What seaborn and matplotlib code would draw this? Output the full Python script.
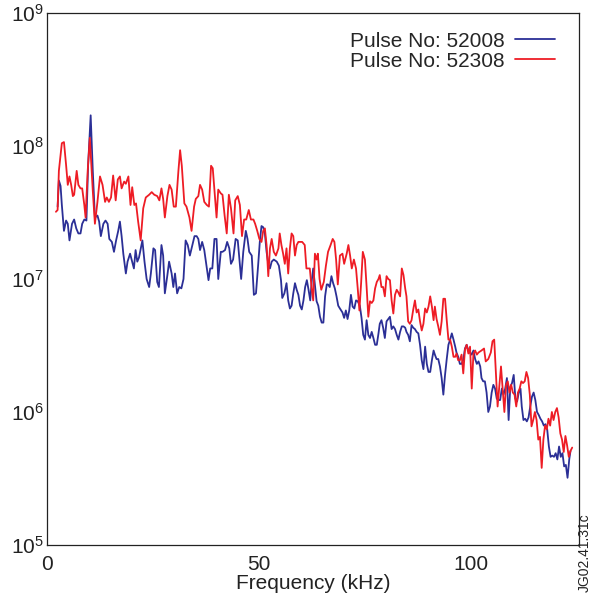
import numpy as np
import pandas as pd
import matplotlib
matplotlib.use("Agg")
import matplotlib.pyplot as plt
import seaborn as sns

# ---------------- data ----------------
freq_52308 = [2.1, 2.5, 2.8, 3.5, 4.0, 4.5, 4.9, 5.3, 5.7, 6.1, 6.4, 7.0, 7.4, 7.9, 8.3, 8.8, 9.1, 9.6, 10.1, 10.8,
              11.3, 11.9, 12.5, 13.1, 13.7, 14.1, 14.6, 15.1, 15.6, 16.2, 16.7, 17.2, 17.6, 18.2, 18.6, 19.2, 19.7, 20.1, 20.6, 21.0,
              21.5, 22.1, 22.7, 23.3, 24.1, 24.7, 25.3, 26.0, 26.5, 27.0, 27.4, 27.8, 28.4, 28.9, 29.4, 29.9, 30.4, 31.0, 31.4, 31.8,
              32.4, 32.9, 33.6, 34.1, 34.7, 35.1, 35.7, 36.1, 36.6, 37.1, 37.7, 38.2, 38.7, 39.1, 39.5, 40.0, 40.4, 41.0, 41.4, 41.9,
              42.4, 42.9, 43.4, 44.0, 44.4, 45.0, 45.5, 46.0, 46.5, 47.0, 47.6, 48.1, 48.7, 49.1, 49.6, 50.1, 50.6, 51.0, 51.4, 51.8,
              52.2, 52.6, 53.0, 53.5, 54.0, 54.6, 54.9, 55.3, 55.7, 56.1, 56.5, 56.9, 57.3, 57.7, 58.1, 58.5, 58.9, 59.3, 59.7, 60.2,
              60.8, 61.2, 61.6, 62.0, 62.4, 62.8, 63.2, 63.6, 63.9, 64.3, 64.7, 65.3, 65.8, 66.3, 66.9, 67.4, 67.8, 68.2, 68.6, 69.1,
              69.7, 70.1, 70.7, 71.1, 71.5, 71.9, 72.4, 72.9, 73.3, 73.7, 74.1, 74.5, 75.0, 75.4, 75.8, 76.2, 76.6, 77.0, 77.4, 77.8,
              78.2, 78.5, 78.9, 79.3, 79.7, 80.1, 80.5, 80.9, 81.3, 81.7, 82.1, 82.5, 82.9, 83.3, 83.7, 84.1, 84.5, 84.8, 85.2, 85.6,
              86.0, 86.4, 86.8, 87.2, 87.6, 88.0, 88.4, 88.8, 89.2, 89.6, 90.0, 90.4, 90.8, 91.2, 91.5, 91.9, 92.3, 92.7, 93.1, 93.5,
              93.9, 94.3, 94.7, 95.1, 95.5, 95.9, 96.3, 96.6, 97.0, 97.4, 97.8, 98.2, 98.6, 99.0, 99.4, 99.8, 100.2, 100.6, 101.0, 101.4,
              101.8, 102.5, 103.1, 103.5, 104.1, 104.7, 105.1, 105.5, 105.9, 106.3, 106.7, 107.1, 107.5, 107.9, 108.3, 108.7, 109.1, 109.5, 109.9, 110.3,
              110.7, 111.1, 111.5, 111.9, 112.3, 112.7, 113.1, 113.5, 113.9, 114.3, 114.7, 115.1, 115.5, 115.9, 116.3, 116.7, 117.1, 117.5, 117.9, 118.3,
              118.7, 119.1, 119.5, 119.9, 120.3, 120.7, 121.1, 121.5, 121.9, 122.3, 122.7, 123.1, 123.5, 123.9]
power_52308 = [3.2e7, 3.3e7, 6.5e7, 1.05e8, 1.07e8, 7.2e7, 5.1e7, 5.9e7, 5.1e7, 4.2e7, 4.3e7, 6.5e7, 5.1e7, 4.8e7, 4.8e7, 3.6e7, 2.9e7, 6.5e7, 1.15e8, 4.6e7,
               2.6e7, 3.8e7, 5.9e7, 5.1e7, 3.8e7, 4.1e7, 3.8e7, 4.1e7, 6.0e7, 3.9e7, 5.6e7, 5.9e7, 4.8e7, 5.4e7, 5.2e7, 5.9e7, 3.6e7, 4.9e7, 3.6e7, 3.7e7,
               2.7e7, 1.95e7, 3.4e7, 4.1e7, 4.3e7, 4.5e7, 4.3e7, 4.2e7, 3.9e7, 4.8e7, 4.0e7, 2.9e7, 4.2e7, 5.1e7, 4.7e7, 3.5e7, 3.5e7, 6.5e7, 9.3e7, 7.1e7,
               3.7e7, 3.5e7, 2.9e7, 2.3e7, 3.5e7, 4.0e7, 4.2e7, 5.1e7, 4.7e7, 3.8e7, 3.6e7, 3.5e7, 7.1e7, 6.8e7, 4.7e7, 2.9e7, 4.7e7, 4.4e7, 4.3e7, 3.0e7,
               2.2e7, 4.3e7, 3.4e7, 2.2e7, 3.9e7, 4.2e7, 3.6e7, 2.1e7, 2.8e7, 2.8e7, 3.3e7, 2.8e7, 2.8e7, 2.6e7, 2.3e7, 2.0e7, 1.9e7, 2.3e7, 2.4e7, 1.8e7,
               1.05e7, 1.7e7, 2.0e7, 1.6e7, 1.5e7, 1.7e7, 2.2e7, 1.8e7, 1.55e7, 1.3e7, 1.7e7, 1.1e7, 1.7e7, 2.2e7, 2.1e7, 1.5e7, 1.8e7, 1.9e7, 1.9e7, 1.9e7,
               1.8e7, 1.2e7, 1.2e7, 1.2e7, 8.7e6, 6.9e6, 1.55e7, 1.4e7, 1.55e7, 1.0e7, 8.3e6, 9.5e6, 1.26e7, 1.6e7, 1.8e7, 2.0e7, 1.9e7, 1.4e7, 9.1e6, 1.5e7,
               1.55e7, 1.3e7, 1.55e7, 1.8e7, 1.5e7, 1.2e7, 1.4e7, 1.2e7, 8.5e6, 5.8e6, 9.3e6, 1.6e7, 1.4e7, 8.7e6, 5.2e6, 6.8e6, 6.6e6, 6.9e6, 8.5e6, 9.5e6,
               1.0e7, 1.07e7, 8.7e6, 8.7e6, 7.4e6, 1.05e7, 1.0e7, 9.8e6, 6.9e6, 5.5e6, 7.6e6, 8.3e6, 7.9e6, 7.4e6, 1.2e7, 1.07e7, 8.5e6, 7.4e6, 4.8e6, 4.6e6,
               4.9e6, 5.9e6, 6.9e6, 5.6e6, 5.9e6, 4.8e6, 4.1e6, 4.6e6, 6.0e6, 5.6e6, 6.2e6, 7.4e6, 6.2e6, 4.9e6, 6.2e6, 5.0e6, 4.4e6, 3.8e6, 4.8e6, 7.1e6,
               7.1e6, 4.9e6, 3.5e6, 3.5e6, 3.1e6, 2.6e6, 2.6e6, 2.75e6, 2.45e6, 2.45e6, 2.7e6, 1.95e6, 2.95e6, 3.2e6, 2.75e6, 3.1e6, 1.5e6, 2.75e6, 2.9e6, 2.7e6,
               2.8e6, 2.9e6, 3.0e6, 2.4e6, 2.5e6, 2.8e6, 3.4e6, 3.5e6, 1.95e6, 1.1e6, 1.55e6, 2.2e6, 1.5e6, 1.0e6, 1.6e6, 1.7e6, 1.4e6, 1.6e6, 1.4e6, 1.35e6,
               1.1e6, 1.4e6, 1.5e6, 1.7e6, 1.65e6, 1.7e6, 2.0e6, 1.8e6, 1.35e6, 7.8e5, 8.7e5, 1.0e6, 8.7e5, 6.2e5, 6.5e5, 3.8e5, 6.2e5, 7.9e5, 7.4e5, 8.9e5,
               7.9e5, 1.0e6, 8.7e5, 1.0e6, 1.07e6, 9.1e5, 6.9e5, 6.2e5, 5.0e5, 6.6e5, 5.6e5, 4.6e5, 5.1e5, 5.4e5]

freq_52008 = [2.5, 2.8, 3.2, 3.5, 4.0, 4.5, 4.9, 5.3, 5.9, 6.4, 6.9, 7.4, 7.9, 8.3, 8.8, 9.3, 9.7, 10.3, 10.8, 11.3,
              11.9, 12.3, 12.7, 13.3, 13.8, 14.3, 14.7, 15.3, 15.8, 16.3, 16.8, 17.2, 17.6, 18.0, 18.6, 19.0, 19.6, 20.1, 20.5, 20.9,
              21.3, 21.7, 22.2, 22.5, 23.0, 23.5, 24.1, 24.5, 25.1, 25.5, 26.0, 26.4, 27.0, 27.4, 27.8, 28.4, 28.8, 29.4, 29.8, 30.2,
              30.7, 31.2, 31.7, 32.2, 32.7, 33.2, 33.7, 34.3, 34.8, 35.3, 35.7, 36.1, 36.6, 37.1, 37.7, 38.1, 38.5, 39.0, 39.5, 40.0,
              40.4, 41.0, 41.4, 42.0, 42.5, 43.0, 43.4, 43.9, 44.5, 45.0, 45.4, 45.8, 46.3, 46.9, 47.3, 47.7, 48.3, 48.8, 49.3, 49.8,
              50.2, 50.6, 51.0, 51.4, 51.8, 52.2, 52.6, 53.0, 53.5, 54.2, 54.7, 55.2, 55.5, 56.0, 56.5, 56.9, 57.3, 57.7, 58.1, 58.5,
              58.9, 59.3, 59.7, 60.1, 60.5, 60.9, 61.3, 61.7, 62.1, 62.5, 62.8, 63.2, 63.6, 64.0, 64.4, 64.8, 65.2, 65.6, 66.0, 66.3,
              66.7, 67.1, 67.5, 67.9, 68.3, 68.7, 69.1, 69.7, 70.1, 70.5, 70.9, 71.3, 71.7, 72.1, 72.5, 72.9, 73.3, 73.8, 74.2, 74.6,
              75.0, 75.4, 75.8, 76.2, 76.6, 77.0, 77.4, 77.8, 78.2, 78.5, 78.9, 79.3, 79.7, 80.1, 80.5, 80.9, 81.3, 81.7, 82.1, 82.5,
              82.9, 83.3, 83.7, 84.1, 84.5, 84.8, 85.2, 85.6, 86.0, 86.4, 86.8, 87.2, 87.6, 88.0, 88.4, 88.8, 89.2, 89.6, 90.0, 90.4,
              90.8, 91.2, 91.5, 91.9, 92.3, 92.7, 93.1, 93.5, 93.9, 94.3, 94.7, 95.1, 95.5, 95.9, 96.3, 96.6, 97.0, 97.4, 97.8, 98.2,
              98.6, 99.0, 99.4, 99.8, 100.2, 100.6, 101.0, 101.4, 101.8, 102.2, 102.5, 102.9, 103.3, 103.7, 104.1, 104.5, 104.9, 105.3, 105.7, 106.1,
              106.5, 106.9, 107.3, 107.7, 108.1, 108.5, 108.9, 109.3, 109.7, 110.1, 110.5, 110.9, 111.3, 111.7, 112.0, 112.4, 112.8, 113.2, 113.6, 114.0,
              114.4, 114.8, 115.2, 115.6, 116.0, 116.4, 116.8, 117.2, 117.6, 118.0, 118.4, 118.8, 119.2, 119.6, 120.0, 120.4, 120.8, 121.2, 121.6, 122.0,
              122.4, 122.8, 123.2, 123.5]
power_52008 = [3.5e7, 5.5e7, 5.0e7, 3.6e7, 2.3e7, 2.75e7, 2.6e7, 1.95e7, 2.6e7, 2.8e7, 2.4e7, 2.2e7, 2.2e7, 2.6e7, 2.8e7, 2.75e7, 7.2e7, 1.7e8, 6.5e7, 2.9e7,
               3.0e7, 2.7e7, 2.1e7, 2.6e7, 2.75e7, 2.6e7, 2.0e7, 1.9e7, 1.6e7, 1.95e7, 2.3e7, 2.7e7, 2.1e7, 1.55e7, 1.1e7, 1.35e7, 1.55e7, 1.35e7, 1.2e7, 1.65e7,
               1.35e7, 1.45e7, 1.75e7, 1.95e7, 1.35e7, 1.0e7, 8.7e6, 1.1e7, 1.7e7, 1.65e7, 9.5e6, 8.7e6, 1.8e7, 1.5e7, 7.8e6, 1.07e7, 1.35e7, 1.1e7, 8.7e6, 1.1e7,
               7.8e6, 8.7e6, 8.5e6, 1.0e7, 1.95e7, 1.8e7, 1.5e7, 1.8e7, 2.1e7, 2.1e7, 2.0e7, 1.65e7, 1.9e7, 1.65e7, 1.2e7, 9.8e6, 1.2e7, 1.2e7, 2.0e7, 2.0e7,
               1.0e7, 1.6e7, 1.6e7, 1.65e7, 1.9e7, 1.7e7, 1.3e7, 1.4e7, 2.0e7, 1.95e7, 1.4e7, 1.0e7, 1.6e7, 2.3e7, 2.0e7, 1.6e7, 1.5e7, 7.6e6, 7.8e6, 1.26e7,
               1.9e7, 2.5e7, 2.45e7, 2.2e7, 1.6e7, 1.3e7, 1.2e7, 1.35e7, 1.4e7, 1.35e7, 1.26e7, 9.8e6, 7.2e6, 7.8e6, 9.3e6, 6.9e6, 6.0e6, 6.3e6, 7.8e6, 9.3e6,
               8.3e6, 7.6e6, 6.3e6, 5.9e6, 6.9e6, 8.7e6, 9.8e6, 8.3e6, 6.9e6, 1.0e7, 1.2e7, 9.1e6, 6.8e6, 6.3e6, 5.2e6, 4.7e6, 4.7e6, 7.4e6, 9.1e6, 9.1e6,
               8.7e6, 1.05e7, 9.3e6, 8.5e6, 7.4e6, 6.3e6, 6.0e6, 5.6e6, 5.1e6, 5.8e6, 5.0e6, 5.8e6, 7.6e6, 6.2e6, 6.0e6, 6.9e6, 6.8e6, 6.3e6, 5.1e6, 3.8e6,
               3.5e6, 4.9e6, 3.8e6, 3.6e6, 4.0e6, 3.6e6, 3.2e6, 3.2e6, 3.9e6, 4.6e6, 4.9e6, 4.3e6, 3.6e6, 4.8e6, 5.0e6, 5.2e6, 4.2e6, 4.4e6, 4.2e6, 3.8e6,
               3.5e6, 4.0e6, 4.4e6, 4.4e6, 4.3e6, 4.0e6, 3.8e6, 3.4e6, 4.5e6, 4.3e6, 4.2e6, 4.0e6, 3.9e6, 3.2e6, 2.45e6, 2.1e6, 3.1e6, 2.3e6, 2.0e6, 2.0e6,
               2.45e6, 2.9e6, 2.7e6, 2.5e6, 2.5e6, 2.2e6, 1.8e6, 1.35e6, 1.9e6, 2.5e6, 3.2e6, 3.5e6, 3.9e6, 3.5e6, 3.1e6, 2.8e6, 2.6e6, 2.3e6, 2.3e6, 2.45e6,
               3.0e6, 3.2e6, 2.9e6, 2.8e6, 2.7e6, 2.9e6, 2.5e6, 2.3e6, 2.4e6, 2.2e6, 1.8e6, 1.7e6, 1.7e6, 1.4e6, 1.0e6, 1.1e6, 1.4e6, 1.6e6, 1.5e6, 1.26e6,
               1.23e6, 1.23e6, 1.5e6, 1.35e6, 1.5e6, 1.8e6, 8.7e5, 1.55e6, 1.65e6, 1.9e6, 1.26e6, 1.2e6, 1.4e6, 1.5e6, 1.1e6, 8.7e5, 8.9e5, 8.5e5, 9.1e5, 1.1e6,
               1.3e6, 1.4e6, 1.23e6, 1.0e6, 9.5e5, 8.9e5, 8.5e5, 7.9e5, 8.1e5, 7.4e5, 5.5e5, 4.6e5, 4.7e5, 4.6e5, 4.9e5, 4.4e5, 5.5e5, 4.6e5, 4.9e5, 3.9e5,
               4.0e5, 3.2e5, 4.4e5, 5.1e5]

series_names = ["Pulse No: 52008", "Pulse No: 52308"]
series_colors = ["#2b2f96", "#ee1c25"]
x_ticks = [0, 50, 100]
y_ticks = [1e5, 1e6, 1e7, 1e8, 1e9]
y_tick_labels = [r"$\mathregular{10^5}$", r"$\mathregular{10^6}$", r"$\mathregular{10^7}$",
                 r"$\mathregular{10^8}$", r"$\mathregular{10^9}$"]
x_label = "Frequency (kHz)"
side_note = "JG02.41.31c"

# ---------------- figure ----------------
sns.set_style("white")
plt.rcParams["font.family"] = ["Liberation Sans", "DejaVu Sans"]
plt.rcParams["mathtext.fontset"] = "custom"
plt.rcParams["mathtext.rm"] = "Liberation Sans"

df = pd.concat([
    pd.DataFrame({"freq": freq_52008, "power": power_52008, "pulse": series_names[0]}),
    pd.DataFrame({"freq": freq_52308, "power": power_52308, "pulse": series_names[1]}),
], ignore_index=True)

fig = plt.figure(figsize=(6.05, 6.01), dpi=100)
ax = fig.add_axes([0.0777, 0.0932, 0.8793, 0.8852])

sns.lineplot(data=df, x="freq", y="power", hue="pulse", hue_order=series_names,
             palette=dict(zip(series_names, series_colors)), estimator=None,
             sort=False, linewidth=1.3, ax=ax)

ax.set_yscale("log")
ax.set_xlim(0, 125.5)
ax.set_ylim(1e5, 1e9)
ax.set_yticks(y_ticks)
ax.set_yticklabels(y_tick_labels)
ax.yaxis.set_minor_locator(matplotlib.ticker.NullLocator())
ax.set_xticks(x_ticks)
ax.set_xticklabels([str(t) for t in x_ticks])
ax.tick_params(axis="both", which="major", direction="in", length=8, width=0.8,
               labelsize=15, colors="#222222")
ax.tick_params(axis="x", pad=7)
ax.tick_params(axis="y", pad=2)
ax.set_xlabel(x_label, fontsize=15, color="#222222", labelpad=0)
ax.set_ylabel("")
for sp in ax.spines.values():
    sp.set_color("#222222")
    sp.set_linewidth(0.9)

handles, labels = ax.get_legend_handles_labels()
ax.legend(handles, labels, loc="upper right", frameon=False, markerfirst=False,
          fontsize=15, handlelength=1.9, handletextpad=0.5, labelspacing=0.05,
          borderaxespad=0.5, bbox_to_anchor=(0.99, 1.0))

fig.text(0.967, 0.015, side_note, rotation=90, fontsize=10, color="#222222",
         ha="center", va="bottom")

fig.savefig("out.png", dpi=100)
